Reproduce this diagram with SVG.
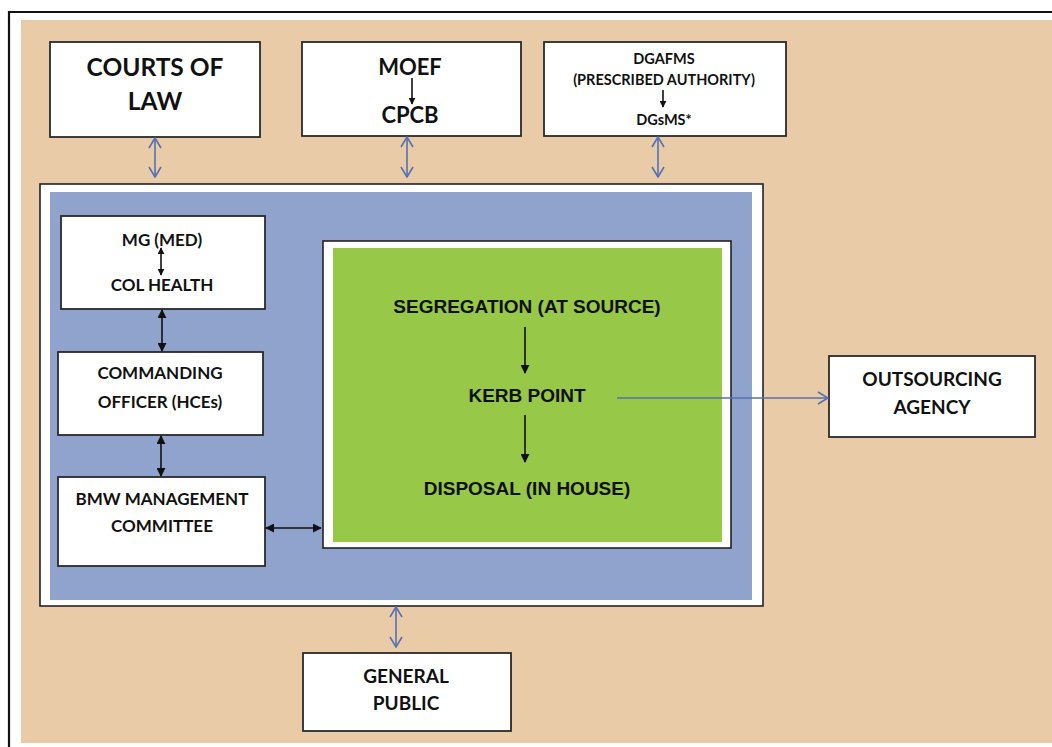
<svg xmlns="http://www.w3.org/2000/svg" width="1052" height="747" viewBox="0 0 1052 747">
<defs>
<style>
.box{fill:#fff;stroke:#2a2a2a;stroke-width:1.8}
.lbl{font-family:Lato,"Open Sans",sans-serif;font-weight:bold;fill:#111;text-anchor:middle}
.grn{font-family:"Liberation Sans",Arial,sans-serif;font-weight:bold;fill:#111;text-anchor:middle;font-size:19px}
.blk{stroke:#111;stroke-width:1.6;fill:none}
.blu{stroke:#5470B4;stroke-width:1.6;fill:none}
</style>
<marker id="ah" viewBox="0 0 10 10" refX="9" refY="5" markerWidth="7" markerHeight="7" markerUnits="userSpaceOnUse" orient="auto-start-reverse">
<path d="M0,0 L10,5 L0,10 z" fill="#111"/>
</marker>
<marker id="ahb" viewBox="0 0 10 10" refX="9" refY="5" markerWidth="9" markerHeight="9" markerUnits="userSpaceOnUse" orient="auto-start-reverse">
<path d="M0,0 L10,5 L0,10 z" fill="#111"/>
</marker>
<marker id="chev" viewBox="0 0 12 14" refX="11" refY="7" markerWidth="12" markerHeight="14" markerUnits="userSpaceOnUse" orient="auto-start-reverse">
<path d="M1,1 L11,7 L1,13" fill="none" stroke="#5470B4" stroke-width="1.6"/>
</marker>
</defs>
<rect x="0" y="0" width="1052" height="747" fill="#fff"/>
<rect x="21" y="20" width="1031" height="723" fill="#E9CBA8"/>
<path d="M9,747 V12 H1052" fill="none" stroke="#111" stroke-width="2.2"/>

<g id="outer-box">
<rect x="40" y="184" width="723" height="422" fill="#fff" stroke="#222" stroke-width="1.6"/>
<rect x="50" y="192" width="702" height="408" fill="#8FA3CC"/>
</g>

<g id="courts">
<rect class="box" x="50" y="42" width="210" height="95"/>
<text class="lbl" x="155" y="76" font-size="24.5">COURTS OF</text>
<text class="lbl" x="155" y="110" font-size="24.5">LAW</text>
</g>
<g id="moef">
<rect class="box" x="302" y="42" width="219" height="94"/>
<text class="lbl" x="410" y="75" font-size="22">MOEF</text>
<text class="lbl" x="410" y="123" font-size="22">CPCB</text>
<line class="blk" x1="412" y1="78" x2="412" y2="104" marker-end="url(#ah)"/>
</g>
<g id="dgafms">
<rect class="box" x="544" y="42" width="242" height="94"/>
<text class="lbl" x="664" y="64" font-size="14.5">DGAFMS</text>
<text class="lbl" x="664" y="85" font-size="14.5">(PRESCRIBED AUTHORITY)</text>
<text class="lbl" x="664" y="125" font-size="14.5">DGsMS*</text>
<line class="blk" x1="663" y1="90" x2="663" y2="107" marker-end="url(#ah)"/>
</g>

<g id="mg-med">
<rect class="box" x="61" y="216" width="204" height="93"/>
<text class="lbl" x="162" y="246" font-size="17">MG (MED)</text>
<text class="lbl" x="162" y="291" font-size="17">COL HEALTH</text>
<line class="blk" x1="161" y1="248" x2="161" y2="275" marker-start="url(#ah)" marker-end="url(#ah)"/>
</g>
<g id="commanding-officer">
<rect class="box" x="58" y="352" width="205" height="83"/>
<text class="lbl" x="160" y="379" font-size="17">COMMANDING</text>
<text class="lbl" x="160" y="408" font-size="17">OFFICER (HCEs)</text>
</g>
<g id="bmw-committee">
<rect class="box" x="58" y="477" width="207" height="89"/>
<text class="lbl" x="162" y="505" font-size="17">BMW MANAGEMENT</text>
<text class="lbl" x="162" y="532" font-size="17">COMMITTEE</text>
</g>

<g id="process">
<rect x="323" y="241" width="408" height="307" fill="#fff" stroke="#222" stroke-width="1.6"/>
<rect x="333" y="248" width="389" height="294" fill="#97C847"/>
<text class="grn" x="527" y="313">SEGREGATION (AT SOURCE)</text>
<text class="grn" x="527" y="402">KERB POINT</text>
<text class="grn" x="527" y="495">DISPOSAL (IN HOUSE)</text>
<line class="blk" x1="525" y1="327" x2="525" y2="373" marker-end="url(#ahb)"/>
<line class="blk" x1="525" y1="415" x2="525" y2="462" marker-end="url(#ahb)"/>
</g>

<g id="outsourcing">
<rect class="box" x="829" y="356" width="206" height="81"/>
<text class="lbl" x="932" y="386" font-size="19">OUTSOURCING</text>
<text class="lbl" x="932" y="414" font-size="19">AGENCY</text>
</g>
<g id="general-public">
<rect class="box" x="303" y="653" width="208" height="78"/>
<text class="lbl" x="406" y="683" font-size="19">GENERAL</text>
<text class="lbl" x="406" y="710" font-size="19">PUBLIC</text>
</g>

<g id="connectors">
<line class="blu" x1="155" y1="138" x2="155" y2="177" marker-start="url(#chev)" marker-end="url(#chev)"/>
<line class="blu" x1="407" y1="137" x2="407" y2="177" marker-start="url(#chev)" marker-end="url(#chev)"/>
<line class="blu" x1="658" y1="137" x2="658" y2="177" marker-start="url(#chev)" marker-end="url(#chev)"/>
<line class="blu" x1="396" y1="607" x2="396" y2="647" marker-start="url(#chev)" marker-end="url(#chev)"/>
<line class="blu" x1="617" y1="398" x2="828" y2="398" marker-end="url(#chev)"/>
<line class="blk" x1="162" y1="310" x2="162" y2="351" marker-start="url(#ahb)" marker-end="url(#ahb)"/>
<line class="blk" x1="161" y1="436" x2="161" y2="476" marker-start="url(#ahb)" marker-end="url(#ahb)"/>
<line class="blk" x1="266" y1="528" x2="321" y2="528" marker-start="url(#ahb)" marker-end="url(#ahb)"/>
</g>
</svg>
